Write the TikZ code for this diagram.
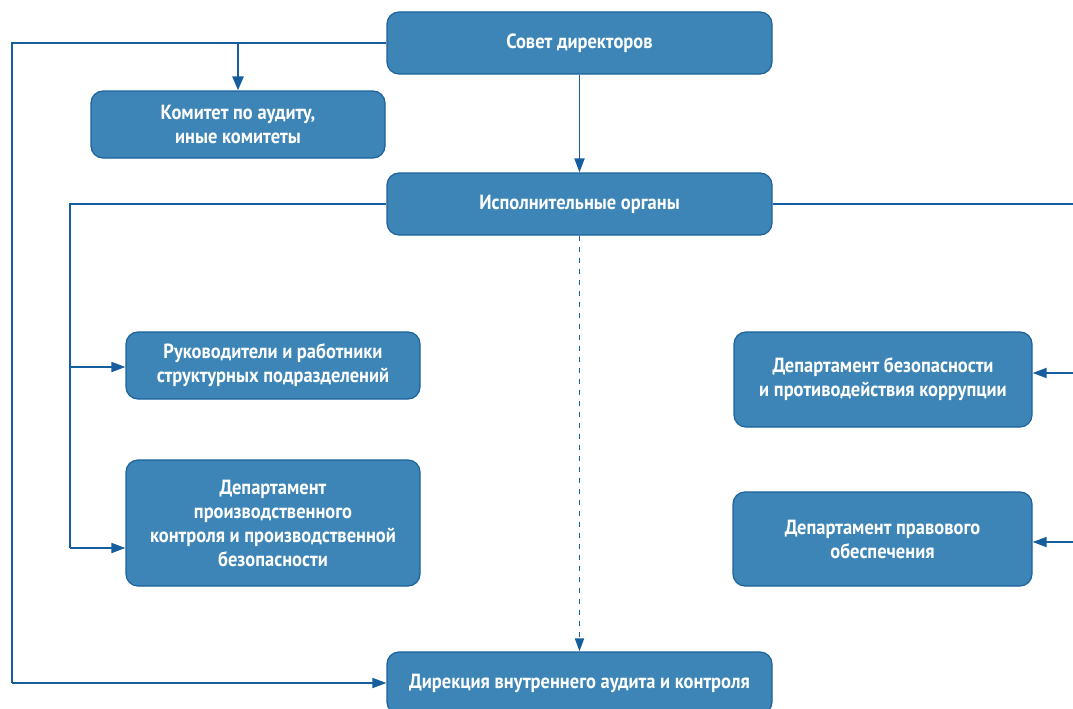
\documentclass[tikz,border=0pt]{standalone}
\usepackage{fontspec}
\setmainfont{PT Sans}[FakeStretch=0.9]
\usetikzlibrary{arrows.meta}
\definecolor{boxfill}{RGB}{61,133,182}
\definecolor{boxline}{RGB}{28,98,158}
\definecolor{conn}{RGB}{22,94,158}
\tikzset{
  orgbox/.style={draw=boxline, fill=boxfill, line width=1.2pt, rounded corners=12pt,
    text=white, align=center, inner sep=0pt,
    font=\bfseries\fontsize{20.5}{24}\selectfont},
  link/.style={draw=conn, line width=1.8pt},
  arr/.style={link, -{Triangle[length=14pt,width=10pt]}},
  arrthick/.style={draw=conn, line width=2.4pt, -{Triangle[length=14pt,width=11pt]}},
  dashlink/.style={link, dash pattern=on 5pt off 6pt, -{Triangle[length=13pt,width=9pt]}}
}
\begin{document}
\begin{tikzpicture}[x=1pt,y=-1pt]
\clip (0,0) rectangle (1073,709);
\useasboundingbox (0,0) rectangle (1073,709);

\node[orgbox, minimum width=385pt, minimum height=62pt] (sovet) at (579.5,43) {Совет директоров};
\node[orgbox, minimum width=294pt, minimum height=67pt] (kom) at (238,124.5) {Комитет по аудиту,\\иные комитеты};
\node[orgbox, minimum width=385pt, minimum height=62pt] (isp) at (579.5,204) {Исполнительные органы};
\node[orgbox, minimum width=294pt, minimum height=67pt] (ruk) at (273,365.5) {Руководители и работники\\структурных подразделений};
\node[orgbox, minimum width=294pt, minimum height=126pt] (proizv) at (273,523) {Департамент\\производственного\\контроля и производственной\\безопасности};
\node[orgbox, minimum width=298pt, minimum height=95pt] (bez) at (883,379.5) {Департамент безопасности\\и противодействия коррупции};
\node[orgbox, minimum width=299pt, minimum height=94pt] (prav) at (882.5,539) {Департамент правового\\обеспечения};
\node[orgbox, minimum width=385pt, minimum height=62pt] (dir) at (579.5,683) {Дирекция внутреннего аудита и контроля};

% board to audit and committees
\coordinate (tl) at (12,43);
\coordinate (bl) at (12,683);
\coordinate (kj) at (238,43);
\draw[link] (sovet.west) -- (tl) -- (bl);
\draw[arr] (bl) -- (dir.west);
\draw[arrthick] (kj) -- (kom.north);
\draw[arr] (sovet.south) -- (isp.north);

% executive bodies to the left
\coordinate (lt) at (70,204);
\coordinate (l1) at (70,367);
\coordinate (l2) at (70,548);
\draw[link] (isp.west) -- (lt) -- (l2);
\draw[arr] (l1) -- (l1 -| ruk.west);
\draw[arr] (l2) -- (l2 -| proizv.west);

% executive bodies to the right
\coordinate (rt) at (1073,204);
\coordinate (r1) at (1073,373);
\coordinate (r2) at (1073,542);
\draw[link] (isp.east) -- (rt);
\draw[arr] (r1) -- (r1 -| bez.east);
\draw[arr] (r2) -- (r2 -| prav.east);

% dashed line to internal audit
\draw[dashlink] (isp.south) -- (dir.north);
\end{tikzpicture}
\end{document}
